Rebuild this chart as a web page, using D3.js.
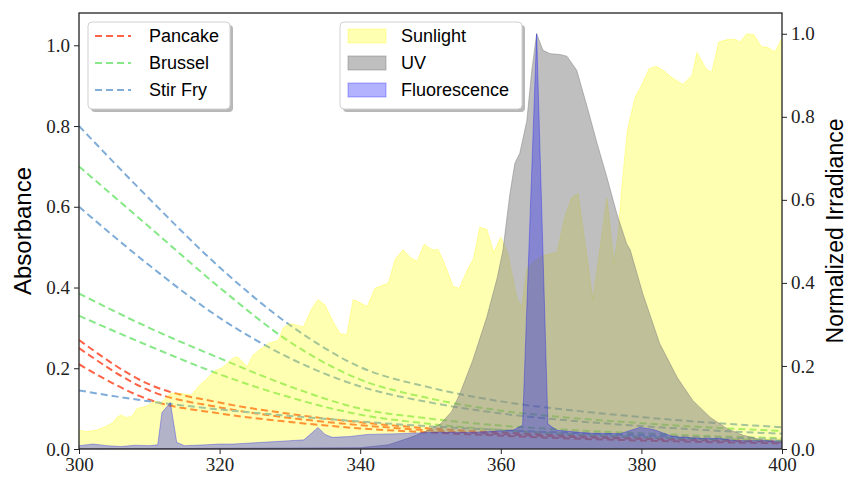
<!DOCTYPE html>
<html>
<head>
<meta charset="utf-8">
<script src="https://cdn.jsdelivr.net/npm/d3@7"></script>
<style>
  body { margin: 0; background: #fff; }
</style>
</head>
<body>
<div id="chart"></div>
<script>
// absorbance curves, sampled every 10 nm
const absWl = [300, 310, 320, 330, 340, 350, 360, 370, 380, 390, 400]
const pancake = [
    [0.27, 0.16, 0.115, 0.087, 0.066, 0.051, 0.041, 0.034, 0.028, 0.024, 0.021],
    [0.25, 0.145, 0.103, 0.077, 0.059, 0.046, 0.037, 0.030, 0.025, 0.021, 0.018],
    [0.21, 0.122, 0.088, 0.067, 0.051, 0.041, 0.033, 0.026, 0.021, 0.017, 0.014]
]
const brussel = [
    [0.70, 0.55, 0.40, 0.265, 0.172, 0.125, 0.095, 0.077, 0.064, 0.053, 0.045],
    [0.385, 0.30, 0.225, 0.155, 0.10, 0.075, 0.058, 0.047, 0.039, 0.032, 0.027],
    [0.33, 0.255, 0.185, 0.128, 0.085, 0.062, 0.047, 0.037, 0.030, 0.025, 0.021]
]
const stirFry = [
    [0.80, 0.62, 0.45, 0.307, 0.203, 0.152, 0.118, 0.096, 0.079, 0.065, 0.054],
    [0.60, 0.455, 0.325, 0.225, 0.155, 0.115, 0.088, 0.070, 0.057, 0.046, 0.038],
    [0.145, 0.118, 0.098, 0.082, 0.068, 0.056, 0.047, 0.040, 0.034, 0.029, 0.025]
]

// normalized irradiance spectra
const sunWl = [300, 301, 302.4, 303.5, 304.7, 305.5, 306, 306.7, 307.5, 308.3, 309.4, 310.8, 311.7, 313, 314.2,
    315.2, 316, 317.2, 318, 319.3, 320.4, 321, 321.8, 322.6, 323.9, 324.7, 325.6, 327, 328.4, 329, 329.9, 330.6,
    331.4, 331.9, 333.1, 334, 335, 336.2, 337.1, 338.1, 339, 340, 341, 342.1, 343, 344, 345, 346.1, 347.1, 348.1,
    349.1, 350.2, 351.1, 352.1, 353.2, 354.1, 355.2, 356.1, 357, 358, 359, 360, 361, 362.3, 363, 363.7, 365, 366,
    368, 369.1, 370.1, 371, 373.1, 375.1, 376.1, 376.7, 377.2, 378, 379.1, 379.8, 381.1, 382.1, 383.1, 384.3,
    385.9, 387.2, 387.9, 389.2, 390, 391, 392.2, 393.3, 394, 395, 396, 397.1, 397.9, 399, 400]
const sunVal = [0.045, 0.042, 0.045, 0.052, 0.062, 0.078, 0.082, 0.076, 0.078, 0.098, 0.102, 0.115, 0.112, 0.134, 0.134,
    0.132, 0.13, 0.155, 0.166, 0.188, 0.196, 0.205, 0.218, 0.222, 0.198, 0.225, 0.238, 0.255, 0.262, 0.29, 0.302, 0.30,
    0.297, 0.293, 0.338, 0.36, 0.347, 0.305, 0.278, 0.275, 0.36, 0.352, 0.343, 0.387, 0.393, 0.40, 0.458, 0.48, 0.462, 0.452,
    0.493, 0.48, 0.48, 0.442, 0.392, 0.387, 0.43, 0.458, 0.534, 0.529, 0.473, 0.51, 0.47, 0.362, 0.341, 0.435, 0.455, 0.466,
    0.473, 0.558, 0.606, 0.615, 0.36, 0.604, 0.447, 0.52, 0.63, 0.767, 0.847, 0.868, 0.916, 0.922, 0.912, 0.895,
    0.878, 0.90, 0.955, 0.916, 0.907, 0.98, 0.986, 0.987, 0.98, 1.0, 0.998, 0.968, 0.968, 0.956, 0.99]

const uvWl = [300, 340, 344, 346.7, 349, 351.4, 353, 354.2, 356, 358, 359.5, 360.3, 361.3, 362, 362.7, 363.7, 364.4,
    365.1, 366, 367, 368.4, 369.4, 370.8, 372.3, 373.7, 375.1, 376.5, 377.9, 378.4, 380.2, 382.6, 385.1, 387.3,
    389.8, 392.2, 394.5, 396.9, 399.7, 400]
const uvVal = [0, 0.003, 0.01, 0.025, 0.04, 0.06, 0.09, 0.134, 0.213, 0.317, 0.413, 0.478, 0.615, 0.688, 0.712, 0.79, 0.91,
    1.0, 0.96, 0.952, 0.95, 0.946, 0.912, 0.823, 0.736, 0.654, 0.567, 0.494, 0.48, 0.374, 0.254, 0.172, 0.117,
    0.076, 0.049, 0.033, 0.023, 0.016, 0.015]

const fluWl = [300, 302, 304, 306, 308, 310, 311.2, 311.8, 313, 313.9, 315, 318, 320, 322, 325, 328, 330, 332, 334, 335,
    336, 338.5, 341, 345.7, 350.4, 356, 361.7, 363.1, 365.1, 366.7, 368, 372.7, 377, 379.8, 381.7, 384.5, 388.8, 391.2,
    393.6, 400]
const fluVal = [0.008, 0.012, 0.008, 0.006, 0.009, 0.008, 0.01, 0.088, 0.112, 0.016, 0.008, 0.01, 0.012, 0.012, 0.015,
    0.018, 0.02, 0.022, 0.052, 0.035, 0.028, 0.03, 0.035, 0.037, 0.04, 0.04, 0.045, 0.057, 1.0, 0.06, 0.045, 0.038, 0.037,
    0.052, 0.047, 0.03, 0.025, 0.025, 0.02, 0.02]

const xTicks = [300, 320, 340, 360, 380, 400]
const yTicks = [0, 0.2, 0.4, 0.6, 0.8, 1.0]

const W = 847, H = 479
const margin = { top: 13, right: 65, bottom: 30, left: 79 }

const svg = d3.select("#chart").append("svg")
    .attr("width", W)
    .attr("height", H)

const x = d3.scaleLinear().domain([300, 400]).range([margin.left, W - margin.right])
const yL = d3.scaleLinear().domain([0, 1.08]).range([H - margin.bottom, margin.top])
const yR = d3.scaleLinear().domain([0, 1.05]).range([H - margin.bottom, margin.top])

const defs = svg.append("defs")
defs.append("clipPath").attr("id", "plot")
    .append("rect")
    .attr("x", margin.left).attr("y", margin.top)
    .attr("width", W - margin.left - margin.right)
    .attr("height", H - margin.top - margin.bottom)

const plot = svg.append("g").attr("clip-path", "url(#plot)")

// dashed absorbance lines (drawn first, the twin axis fills sit on top)
const absLine = d3.line()
    .x((d, i) => x(absWl[i]))
    .y(d => yL(d))
    .curve(d3.curveMonotoneX)

const groups = [
    { name: "Pancake", color: "#ff6347", rows: pancake },
    { name: "Brussel", color: "#86e886", rows: brussel },
    { name: "Stir Fry", color: "#7fadd8", rows: stirFry }
]

groups.forEach(g => {
    g.rows.forEach(row => {
        plot.append("path")
            .attr("d", absLine(row))
            .attr("fill", "none")
            .attr("stroke", g.color)
            .attr("stroke-width", 2)
            .attr("stroke-dasharray", "7,4")
    })
})

// irradiance fills
const spectra = [
    { name: "Sunlight", wl: sunWl, val: sunVal, fill: "#ffff00", op: 0.3 },
    { name: "UV", wl: uvWl, val: uvVal, fill: "#808080", op: 0.5 },
    { name: "Fluorescence", wl: fluWl, val: fluVal, fill: "#0000ff", op: 0.3 }
]

spectra.forEach(s => {
    const pts = s.wl.map((w, i) => [w, s.val[i]])
    const area = d3.area()
        .x(d => x(d[0]))
        .y0(yR(0))
        .y1(d => yR(d[1]))
    const line = d3.line()
        .x(d => x(d[0]))
        .y(d => yR(d[1]))
    plot.append("path")
        .attr("d", area(pts))
        .attr("fill", s.fill)
        .attr("fill-opacity", s.op)
    plot.append("path")
        .attr("d", line(pts))
        .attr("fill", "none")
        .attr("stroke", s.fill)
        .attr("stroke-opacity", s.op)
        .attr("stroke-width", 1)
})

// axes
const tickFont = "'Liberation Serif', 'DejaVu Serif', serif"

const styleAxis = g => {
    g.select(".domain").remove()
    g.selectAll(".tick line").attr("stroke", "#222").attr("stroke-width", 1)
    g.selectAll(".tick text")
        .attr("fill", "#222")
        .style("font-family", tickFont)
        .style("font-size", "19px")
}

svg.append("g")
    .attr("transform", `translate(0,${H - margin.bottom})`)
    .call(d3.axisBottom(x).tickValues(xTicks).tickSize(5).tickPadding(4).tickFormat(d3.format("d")))
    .call(styleAxis)

svg.append("g")
    .attr("transform", `translate(${margin.left},0)`)
    .call(d3.axisLeft(yL).tickValues(yTicks).tickSize(5).tickPadding(4).tickFormat(d3.format(".1f")))
    .call(styleAxis)

svg.append("g")
    .attr("transform", `translate(${W - margin.right},0)`)
    .call(d3.axisRight(yR).tickValues(yTicks).tickSize(5).tickPadding(4).tickFormat(d3.format(".1f")))
    .call(styleAxis)

svg.append("rect")
    .attr("x", margin.left).attr("y", margin.top)
    .attr("width", W - margin.left - margin.right)
    .attr("height", H - margin.top - margin.bottom)
    .attr("fill", "none")
    .attr("stroke", "#222")
    .attr("stroke-width", 1.3)

const sans = "'Liberation Sans', Arial, sans-serif"
const midY = (margin.top + H - margin.bottom) / 2

svg.append("text")
    .attr("transform", `translate(31,${midY}) rotate(-90)`)
    .attr("text-anchor", "middle")
    .style("font-family", sans)
    .style("font-size", "24px")
    .text("Absorbance")

svg.append("text")
    .attr("transform", `translate(843,${midY}) rotate(-90)`)
    .attr("text-anchor", "middle")
    .style("font-family", sans)
    .style("font-size", "23px")
    .text("Normalized Irradiance")

// legends
const legendBox = (x0, y0, w, h) => {
    svg.append("rect")
        .attr("x", x0 + 3).attr("y", y0 + 3)
        .attr("width", w).attr("height", h)
        .attr("rx", 4)
        .attr("fill", "#888").attr("fill-opacity", 0.6)
    svg.append("rect")
        .attr("x", x0).attr("y", y0)
        .attr("width", w).attr("height", h)
        .attr("rx", 4)
        .attr("fill", "#fff")
        .attr("stroke", "#d0d0d0")
}

const rowY = [36, 63, 90]

legendBox(88, 22, 142, 87)
groups.forEach((g, i) => {
    svg.append("line")
        .attr("x1", 95).attr("x2", 131)
        .attr("y1", rowY[i]).attr("y2", rowY[i])
        .attr("stroke", g.color)
        .attr("stroke-width", 2)
        .attr("stroke-dasharray", "7,4")
    svg.append("text")
        .attr("x", 149).attr("y", rowY[i] + 6)
        .style("font-family", sans)
        .style("font-size", "18px")
        .text(g.name)
})

legendBox(340, 22, 182, 87)
spectra.forEach((s, i) => {
    svg.append("rect")
        .attr("x", 348).attr("y", rowY[i] - 7)
        .attr("width", 38).attr("height", 14)
        .attr("fill", s.fill).attr("fill-opacity", s.op)
        .attr("stroke", s.fill).attr("stroke-opacity", s.op)
    svg.append("text")
        .attr("x", 401).attr("y", rowY[i] + 6)
        .style("font-family", sans)
        .style("font-size", "18px")
        .text(s.name)
})
</script>
</body>
</html>
